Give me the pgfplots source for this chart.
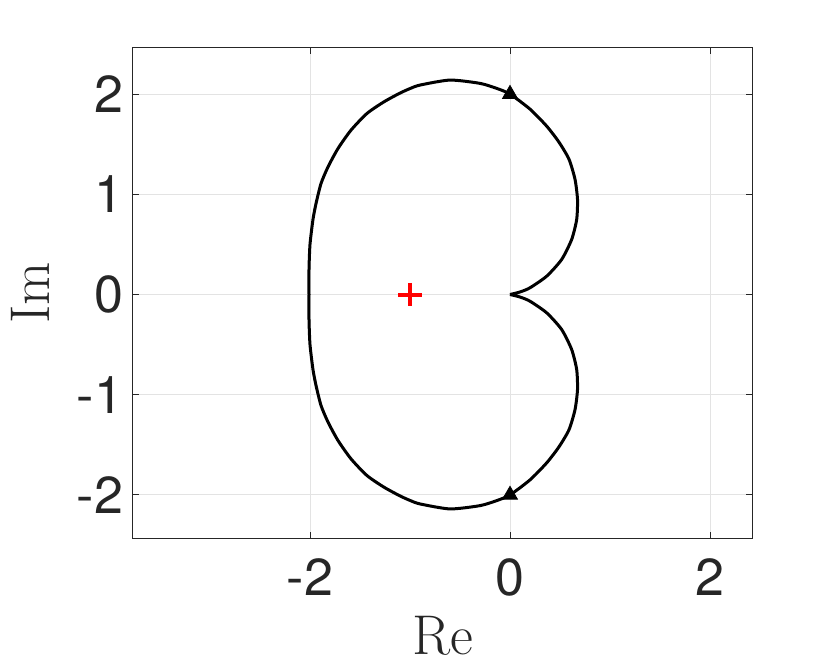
\documentclass[border=0pt]{standalone}
\usepackage{fontspec}
\usepackage{pgfplots}
\pgfplotsset{compat=1.18}
\newfontfamily\helv{TeX Gyre Heros}
\definecolor{axgray}{HTML}{262626}
\definecolor{gridgray}{HTML}{E3E3E3}

\begin{document}
\begin{tikzpicture}
\useasboundingbox (-66.5pt,-63pt) rectangle (348.5pt,269pt);
\begin{axis}[
  at={(0,0)}, anchor=south west,
  scale only axis,
  width=309.5pt, height=245pt,
  xmin=-3.77, xmax=2.42,
  ymin=-2.43, ymax=2.46,
  xtick={-2,0,2}, xticklabels={-2,0,2},
  ytick={-2,-1,0,1,2}, yticklabels={-2,-1,0,1,2},
  tick label style={font=\helv\fontsize{26}{26}\selectfont, text=axgray},
  xticklabel style={yshift=-7pt},
  yticklabel style={xshift=-1.5pt},
  tick align=inside,
  major tick length=3pt,
  tick style={axgray, line width=0.5pt},
  axis line style={axgray, line width=0.5pt},
  grid=major,
  major grid style={gridgray, line width=0.5pt},
  xlabel={Re}, ylabel={Im},
  label style={font=\fontsize{28}{28}\selectfont, text=axgray},
  xlabel style={at={(axis description cs:0.5,0)}, anchor=center, yshift=-49pt},
  ylabel style={at={(axis description cs:0,0.5)}, anchor=center, yshift=51.5pt},
]
% Nyquist curve, upper half then mirrored lower half
\addplot[black, line width=1.5pt, smooth, tension=0.4] coordinates {
  (0.000,0.000) (0.100,0.025) (0.200,0.067) (0.367,0.183) (0.517,0.350)
  (0.617,0.550) (0.667,0.750) (0.675,0.950) (0.650,1.150) (0.590,1.350)
  (0.490,1.520) (0.367,1.680) (0.200,1.850) (0.000,2.000)
  (-0.133,2.057) (-0.300,2.107) (-0.600,2.140) (-0.900,2.090) (-1.000,2.055)
  (-1.100,2.010) (-1.260,1.923) (-1.430,1.807) (-1.590,1.640) (-1.720,1.457)
  (-1.820,1.273) (-1.890,1.107) (-1.940,0.907) (-1.970,0.750) (-2.000,0.500)
  (-2.010,0.250) (-2.010,0.000)
  (-2.010,-0.250) (-2.000,-0.500) (-1.970,-0.750) (-1.940,-0.907) (-1.890,-1.107)
  (-1.820,-1.273) (-1.720,-1.457) (-1.590,-1.640) (-1.430,-1.807) (-1.260,-1.923)
  (-1.100,-2.010) (-1.000,-2.055) (-0.900,-2.090) (-0.600,-2.140) (-0.300,-2.107)
  (-0.133,-2.057) (0.000,-2.000) (0.200,-1.850) (0.367,-1.680) (0.490,-1.520)
  (0.590,-1.350) (0.650,-1.150) (0.675,-0.950) (0.667,-0.750) (0.617,-0.550)
  (0.517,-0.350) (0.367,-0.183) (0.200,-0.067) (0.100,-0.025) (0.000,0.000)
};
% direction markers
\addplot[only marks, mark=triangle*, mark size=4.3pt, black] coordinates {(0,2) (0,-2)};
% critical point
\addplot[only marks, mark=+, mark size=5.8pt, red, mark options={line width=2pt}] coordinates {(-1,0)};
\end{axis}
\end{tikzpicture}
\end{document}
